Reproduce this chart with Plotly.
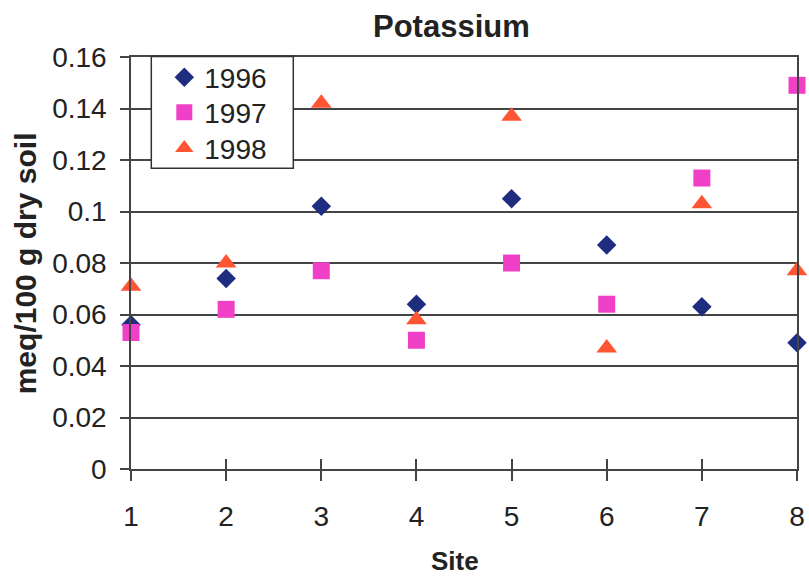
import plotly.graph_objects as go

sites = [1, 2, 3, 4, 5, 6, 7, 8]
k1996 = [0.056, 0.074, 0.102, 0.064, 0.105, 0.087, 0.063, 0.049]
k1997 = [0.053, 0.062, 0.077, 0.050, 0.080, 0.064, 0.113, 0.149]
k1998 = [0.071, 0.080, 0.142, 0.058, 0.137, 0.047, 0.103, 0.077]
y_ticks = [0, 0.02, 0.04, 0.06, 0.08, 0.1, 0.12, 0.14, 0.16]
y_tick_text = ["0", "0.02", "0.04", "0.06", "0.08", "0.1", "0.12", "0.14", "0.16"]

FONT = "Liberation Sans, Arial, sans-serif"
GRID = "#444444"
TXT = "#222222"

W, H = 809, 577
L, R, T, B = 130.7, 12.3, 56.5, 108
pw = W - L - R
ph = H - T - B


def px_y(ypix):
    return (H - B - ypix) / ph


fig = go.Figure()
fig.add_trace(go.Scatter(x=sites, y=k1996, mode="markers", name="1996", legend="legend",
                         marker=dict(symbol="diamond", size=15, color="#1E2D80"),
                         cliponaxis=False))
fig.add_trace(go.Scatter(x=sites, y=k1997, mode="markers", name="1997", legend="legend2",
                         marker=dict(symbol="square", size=17, color="#F040C8"),
                         cliponaxis=False))
fig.add_trace(go.Scatter(x=sites, y=k1998, mode="markers", name="1998", legend="legend3",
                         marker=dict(symbol="triangle-up", size=18, color="#FF5533"),
                         cliponaxis=False))
# invisible trace on overlay axis for inner x ticks
fig.add_trace(go.Scatter(x=[1, 8], y=[0, 0], xaxis="x2", mode="markers",
                         marker=dict(opacity=0), showlegend=False, hoverinfo="skip"))

leg_x = (164 - L) / pw


def leg(ypix):
    return dict(x=leg_x, y=px_y(ypix), xanchor="left", yanchor="middle",
                bgcolor="rgba(0,0,0,0)", borderwidth=0,
                font=dict(size=28, family=FONT, color=TXT), itemsizing="trace")


fig.update_layout(
    width=W, height=H,
    margin=dict(l=L, r=R, t=T, b=B, pad=0, autoexpand=False),
    paper_bgcolor="white", plot_bgcolor="white",
    font=dict(family=FONT, size=28, color=TXT),
    showlegend=True,
    legend=leg(77), legend2=leg(112), legend3=leg(148),
    xaxis=dict(range=[1, 8], tickvals=sites, ticktext=[str(s) for s in sites],
               automargin=False,
               showgrid=False, zeroline=False, showline=True, linecolor=GRID, linewidth=1.5,
               mirror=True, ticks="outside", ticklen=10, tickwidth=1.5, tickcolor=GRID,
               ticklabelstandoff=12, tickfont=dict(size=28, family=FONT, color=TXT)),
    xaxis2=dict(range=[1, 8], overlaying="x", tickvals=sites, showticklabels=False,
                automargin=False,
                showgrid=False, zeroline=False, showline=False, side="bottom",
                ticks="inside", ticklen=10, tickwidth=1.5, tickcolor=GRID),
    yaxis=dict(range=[0, 0.16], tickvals=y_ticks, ticktext=y_tick_text,
               automargin=False,
               showgrid=True, gridcolor=GRID, gridwidth=1.5, zeroline=False,
               showline=True, linecolor=GRID, linewidth=1.5, mirror=True,
               ticks="outside", ticklen=9, tickwidth=1.5, tickcolor=GRID,
               ticklabelstandoff=8, tickfont=dict(size=28, family=FONT, color=TXT)),
    shapes=[dict(type="rect", xref="paper", yref="paper",
                 x0=(151 - L) / pw, x1=(293 - L) / pw,
                 y0=px_y(168), y1=px_y(56),
                 line=dict(color="#333333", width=1.5), fillcolor="white", layer="above")],
    annotations=[
        dict(text="<b>Potassium</b>", xref="paper", yref="paper",
             x=(451 - L) / pw, y=1, yshift=31, xanchor="center", yanchor="middle",
             showarrow=False, font=dict(size=31, family=FONT, color=TXT)),
        dict(text="<b>Site</b>", xref="paper", yref="paper",
             x=(455 - L) / pw, y=0, yshift=-92, xanchor="center", yanchor="middle",
             showarrow=False, font=dict(size=26, family=FONT, color=TXT)),
        dict(text="<b>meq/100 g dry soil</b>", xref="paper", yref="paper",
             x=0, xshift=25 - L, y=0.5, xanchor="center", yanchor="middle", textangle=-90,
             showarrow=False, font=dict(size=30, family=FONT, color=TXT)),
    ],
)

fig.write_html("out.html")
